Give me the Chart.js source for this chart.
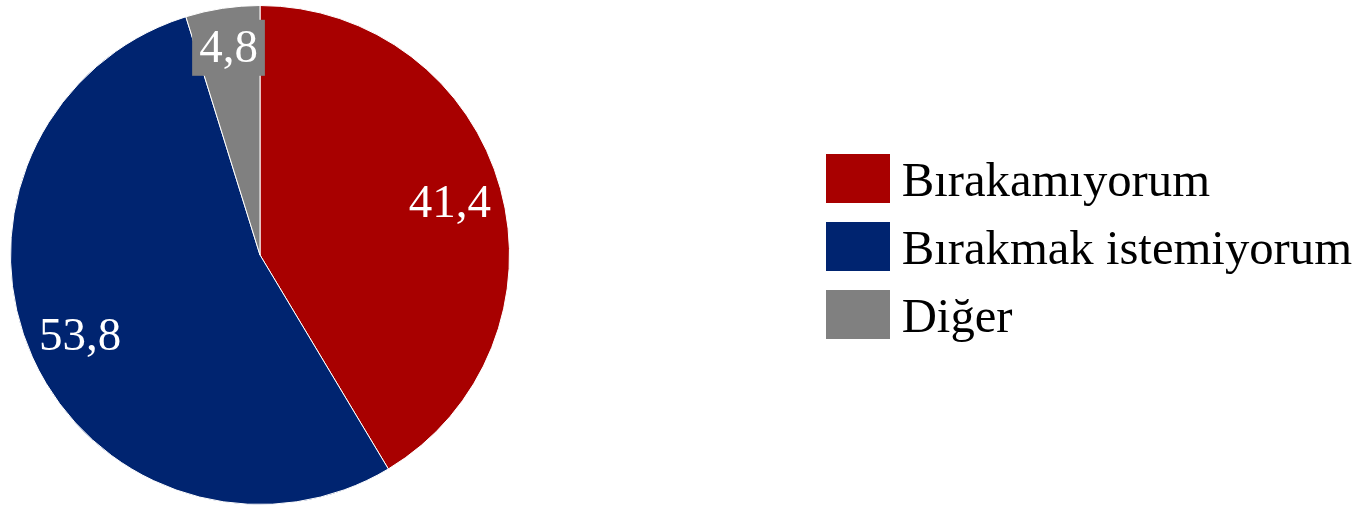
<!DOCTYPE html>
<html>
<head>
<meta charset="utf-8">
<script src="https://cdn.jsdelivr.net/npm/chart.js@4.4.1/dist/chart.umd.min.js"></script>
<style>
  html, body { margin: 0; padding: 0; background: #fff; }
  #wrap { width: 1362px; height: 506px; }
</style>
</head>
<body>
<div id="wrap"><canvas id="pieChart" width="1362" height="506"></canvas></div>
<script>
const labels = ["Bırakamıyorum", "Bırakmak istemiyorum", "Diğer"];
const values = [41.4, 53.8, 4.8];
const valueLabels = ["41,4", "53,8", "4,8"];
const colors = ["#A80000", "#002470", "#808080"];

const serif = '"Liberation Serif", "Times New Roman", Times, serif';

// legend swatches as small canvases (box a bit above the text middle, like the original)
const swatches = colors.map(function (c) {
  const cv = document.createElement("canvas");
  cv.width = 64;
  cv.height = 58;
  const g = cv.getContext("2d");
  g.fillStyle = c;
  g.fillRect(0, 0, 64, 49);
  return cv;
});

// keep the pie on the left, the legend sits on the right
const pieArea = {
  id: "pieArea",
  afterLayout(chart) {
    const size = 500;
    chart.chartArea = { left: 10, top: 5, right: 10 + size, bottom: 5 + size, width: size, height: size };
  }
};

const sliceLabels = {
  id: "sliceLabels",
  afterDatasetsDraw(chart, args, opts) {
    const ctx = chart.ctx;
    const meta = chart.getDatasetMeta(0);
    ctx.save();
    ctx.font = "47px " + serif;
    ctx.textAlign = "center";
    ctx.textBaseline = "middle";
    meta.data.forEach(function (arc, i) {
      const p = arc.getProps(["x", "y", "startAngle", "endAngle", "outerRadius"], true);
      const mid = (p.startAngle + p.endAngle) / 2;
      const r = p.outerRadius * opts.radius[i];
      const lx = p.x + Math.cos(mid) * r;
      const ly = p.y + Math.sin(mid) * r;
      const text = valueLabels[i];
      if (opts.boxed[i]) {
        const w = ctx.measureText(text).width + 14;
        ctx.fillStyle = colors[i];
        ctx.fillRect(lx - w / 2, ly - 28, w, 56);
      }
      ctx.fillStyle = "#fff";
      ctx.fillText(text, lx, ly + 2);
    });
    ctx.restore();
  }
};

const ctx = document.getElementById("pieChart");

var chart = new Chart(ctx, {
  type: "pie",
  data: {
    labels: labels,
    datasets: [
      {
        data: values,
        backgroundColor: colors,
        borderColor: "#ffffff",
        borderWidth: 1,
      },
    ],
  },
  plugins: [pieArea, sliceLabels],
  options: {
    responsive: false,
    animation: false,
    devicePixelRatio: 1,
    layout: { padding: { top: 0, right: 0, bottom: 4, left: 0 } },
    plugins: {
      tooltip: { enabled: false },
      sliceLabels: { radius: [0.79, 0.79, 0.84], boxed: [false, false, true] },
      legend: {
        position: "right",
        align: "center",
        labels: {
          usePointStyle: true,
          boxWidth: 39,
          boxHeight: 48.7,
          padding: 19.3,
          color: "#000",
          font: { family: serif, size: 48.7 },
          generateLabels: function (chart) {
            const items = Chart.overrides.pie.plugins.legend.labels.generateLabels(chart);
            items.forEach(function (item, i) {
              item.pointStyle = swatches[i];
            });
            return items;
          },
        },
      },
    },
  },
});
</script>
</body>
</html>
